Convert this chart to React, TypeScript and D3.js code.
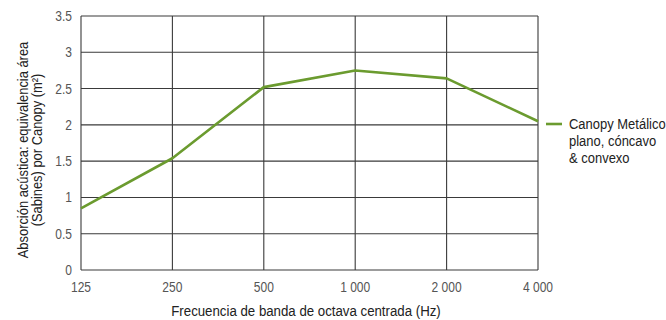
import React from "react";
import * as d3 from "d3";

const frequencies = ["125", "250", "500", "1 000", "2 000", "4 000"];
const absorption = [0.85, 1.54, 2.52, 2.75, 2.64, 2.05];
const yTicks = [0, 0.5, 1, 1.5, 2, 2.5, 3, 3.5];
const yTitleLines = ["Absorción acústica: equivalencia área", "(Sabines) por Canopy (m²)"];
const xTitle = "Frecuencia de banda de octava centrada (Hz)";
const legendLines = ["Canopy Metálico", "plano, cóncavo", "& convexo"];

const W = 666;
const H = 320;
const font = "'Liberation Sans', Arial, sans-serif";

function T(props: {
  x: number;
  y: number;
  anchor?: "start" | "middle" | "end";
  size: number;
  sx: number;
  fill: string;
  rotate?: number;
  children: React.ReactNode;
}) {
  const { x, y, anchor = "start", size, sx, fill, rotate = 0, children } = props;
  return (
    <text
      transform={`translate(${x},${y}) rotate(${rotate}) scale(${sx},1)`}
      textAnchor={anchor}
      fontSize={size}
      fill={fill}
    >
      {children}
    </text>
  );
}

export default function App() {
  const left = 81, right = 538, top = 16, bottom = 270;
  const x = d3.scalePoint<string>().domain(frequencies).range([left, right]);
  const y = d3.scaleLinear().domain([0, 3.5]).range([bottom, top]);
  const line = d3
    .line<number>()
    .x((_, i) => x(frequencies[i]) as number)
    .y((d) => y(d));
  const green = "#6b9b2f";
  return (
    <svg width={W} height={H} style={{ position: "absolute", left: 0, top: 0 }} fontFamily={font}>
      <rect width={W} height={H} fill="#fff" />
      {yTicks.map((t) => (
        <line key={"h" + t} x1={left} x2={right} y1={y(t)} y2={y(t)} stroke="#3a3a3a" strokeWidth={1.1} />
      ))}
      {frequencies.map((f) => (
        <line key={"v" + f} x1={x(f)} x2={x(f)} y1={top} y2={bottom} stroke="#3a3a3a" strokeWidth={1.1} />
      ))}
      {yTicks.map((t) => (
        <T key={"yt" + t} x={left - 9} y={y(t) + 5} anchor="end" size={14} sx={0.86} fill="#555">
          {String(t)}
        </T>
      ))}
      {frequencies.map((f) => (
        <T key={"xt" + f} x={x(f) as number} y={bottom + 22} anchor="middle" size={14} sx={0.86} fill="#555">
          {f}
        </T>
      ))}
      <T x={306} y={316} anchor="middle" size={14.5} sx={0.915} fill="#222">
        {xTitle}
      </T>
      {yTitleLines.map((l, i) => (
        <T key={l} x={28 + i * 14} y={150} anchor="middle" size={14.5} sx={0.89} rotate={-90} fill="#222">
          {l}
        </T>
      ))}
      <path d={line(absorption) ?? ""} fill="none" stroke={green} strokeWidth={2.6} strokeLinejoin="round" />
      <line x1={546} x2={562} y1={124} y2={124} stroke={green} strokeWidth={2.6} />
      {legendLines.map((l, i) => (
        <T key={l} x={569} y={129 + i * 17} size={14.5} sx={0.895} fill="#222">
          {l}
        </T>
      ))}
    </svg>
  );
}
